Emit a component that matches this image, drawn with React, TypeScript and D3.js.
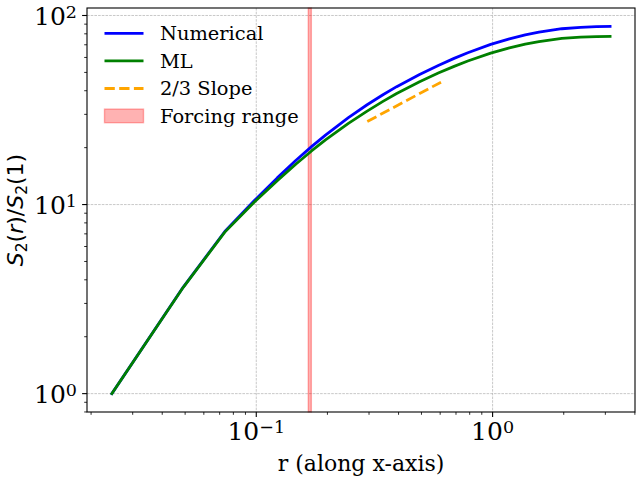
import React, { useEffect, useRef } from "react";
import * as d3 from "d3";

// separation r and normalized second-order structure function S2(r)/S2(1)
const rValues = [0.0245, 0.0491, 0.0736, 0.0982, 0.1227, 0.1473, 0.1718, 0.1963, 0.2454, 0.2945, 0.3436, 0.3927, 0.4909, 0.589, 0.6872, 0.7854, 0.9817, 1.1781, 1.3744, 1.5708, 1.9635, 2.3562, 2.7489, 3.1416];
const numerical = [1, 3.66, 7.2, 10.5, 13.84, 17.14, 20.31, 23.31, 28.83, 33.72, 38.1, 42.03, 48.75, 54.45, 59.33, 63.56, 70.3, 75.2, 78.9, 81.6, 85.1, 86.6, 87.3, 87.6];
const mlValues = [1, 3.65, 7.15, 10.31, 13.38, 16.4, 19.27, 21.98, 26.9, 31.22, 35.13, 38.65, 44.6, 49.6, 53.8, 57.46, 63.2, 67.4, 70.5, 72.8, 75.7, 76.9, 77.4, 77.6];

// reference 2/3 slope segment
const slopeR = [0.295, 0.605];
const slopeS = [27.5, 44.4];

const forcingRange = [0.166, 0.171];

const xTicks = [0.1, 1];
const xTickExp = ["\u22121", "0"];
const yTicks = [1, 10, 100];
const yTickExp = ["0", "1", "2"];

const legendLabels = ["Numerical", "ML", "2/3 Slope", "Forcing range"];

const SERIF = "DejaVu Serif";
const SANS = "DejaVu Sans";

export default function App() {
    const svgRef = useRef<SVGSVGElement>(null);

    useEffect(() => {
        if (!svgRef.current) return;
        const svg = d3.select(svgRef.current);
        svg.selectAll("*").remove();

        const width = 640;
        const height = 480;
        const margin = { top: 8, right: 5, bottom: 68, left: 87 };
        const x0 = margin.left, x1 = width - margin.right;
        const y0 = margin.top, y1 = height - margin.bottom;

        // matplotlib style 5% margins in log space
        const padLog = (vals: number[]) => {
            const lo = Math.log10(d3.min(vals)!);
            const hi = Math.log10(d3.max(vals)!);
            const m = (hi - lo) * 0.05;
            return [Math.pow(10, lo - m), Math.pow(10, hi + m)];
        };

        const x = d3.scaleLog().domain(padLog(rValues)).range([x0, x1]);
        const y = d3.scaleLog().domain(padLog([...numerical, ...mlValues])).range([y1, y0]);

        svg.append("rect").attr("width", width).attr("height", height).attr("fill", "white");

        // --- Grid ---
        const grid = svg.append("g").attr("stroke", "#b0b0b0").attr("stroke-width", 0.7).attr("stroke-dasharray", "2.6,1.1");
        xTicks.forEach((t) => {
            grid.append("line").attr("x1", x(t)).attr("x2", x(t)).attr("y1", y0).attr("y2", y1);
        });
        yTicks.forEach((t) => {
            grid.append("line").attr("x1", x0).attr("x2", x1).attr("y1", y(t)).attr("y2", y(t));
        });

        // --- Forcing range ---
        svg.append("rect")
            .attr("x", x(forcingRange[0]))
            .attr("width", x(forcingRange[1]) - x(forcingRange[0]))
            .attr("y", y0)
            .attr("height", y1 - y0)
            .attr("fill", "red")
            .attr("fill-opacity", 0.3)
            .attr("stroke", "red")
            .attr("stroke-opacity", 0.3)
            .attr("stroke-width", 1.4);

        // --- Lines ---
        const line = d3.line<[number, number]>().x((d) => x(d[0])).y((d) => y(d[1]));
        const series = [
            { vals: numerical, color: "blue" },
            { vals: mlValues, color: "green" },
        ];
        series.forEach((s) => {
            svg.append("path")
                .attr("d", line(rValues.map((r, i) => [r, s.vals[i]] as [number, number])))
                .attr("fill", "none")
                .attr("stroke", s.color)
                .attr("stroke-width", 2.78)
                .attr("stroke-linejoin", "round")
                .attr("stroke-linecap", "square");
        });

        svg.append("path")
            .attr("d", line(slopeR.map((r, i) => [r, slopeS[i]] as [number, number])))
            .attr("fill", "none")
            .attr("stroke", "orange")
            .attr("stroke-width", 2.78)
            .attr("stroke-dasharray", "10.3,4.4");

        // --- Spines ---
        svg.append("rect")
            .attr("x", x0).attr("y", y0)
            .attr("width", x1 - x0).attr("height", y1 - y0)
            .attr("fill", "none").attr("stroke", "black").attr("stroke-width", 1.1);

        // --- Ticks ---
        const ticks = svg.append("g").attr("stroke", "black");
        const minor = (lo: number, hi: number) => {
            const out: number[] = [];
            for (let e = Math.floor(Math.log10(lo)); e <= Math.ceil(Math.log10(hi)); e++) {
                for (let k = 2; k <= 9; k++) {
                    const v = k * Math.pow(10, e);
                    if (v >= lo && v <= hi) out.push(v);
                }
            }
            return out;
        };
        const [xl, xh] = x.domain();
        const [yl, yh] = y.domain();
        minor(xl, xh).forEach((t) => {
            ticks.append("line").attr("x1", x(t)).attr("x2", x(t)).attr("y1", y1).attr("y2", y1 + 2.8).attr("stroke-width", 0.83);
        });
        minor(yl, yh).forEach((t) => {
            ticks.append("line").attr("y1", y(t)).attr("y2", y(t)).attr("x1", x0).attr("x2", x0 - 2.8).attr("stroke-width", 0.83);
        });
        xTicks.forEach((t) => {
            ticks.append("line").attr("x1", x(t)).attr("x2", x(t)).attr("y1", y1).attr("y2", y1 + 4.9).attr("stroke-width", 1.1);
        });
        yTicks.forEach((t) => {
            ticks.append("line").attr("y1", y(t)).attr("y2", y(t)).attr("x1", x0).attr("x2", x0 - 4.9).attr("stroke-width", 1.1);
        });

        // --- Tick labels ---
        const tickFont = 25;
        xTicks.forEach((t, i) => {
            const txt = svg.append("text")
                .attr("x", x(t))
                .attr("y", y1 + 28)
                .attr("text-anchor", "middle")
                .attr("font-family", SERIF)
                .attr("font-size", tickFont)
                .attr("fill", "black");
            txt.append("tspan").text("10");
            txt.append("tspan").attr("font-size", tickFont * 0.7).attr("dy", -7).text(xTickExp[i]);
        });
        yTicks.forEach((t, i) => {
            const txt = svg.append("text")
                .attr("x", x0 - 10)
                .attr("y", y(t) + 9.2)
                .attr("text-anchor", "end")
                .attr("font-family", SERIF)
                .attr("font-size", tickFont)
                .attr("fill", "black");
            txt.append("tspan").text("10");
            txt.append("tspan").attr("font-size", tickFont * 0.7).attr("dy", -7).text(yTickExp[i]);
        });

        // --- Axis labels ---
        svg.append("text")
            .attr("x", (x0 + x1) / 2)
            .attr("y", 471)
            .attr("text-anchor", "middle")
            .attr("font-family", SERIF)
            .attr("font-size", 22)
            .attr("fill", "black")
            .text("r (along x-axis)");

        const yl2 = svg.append("text")
            .attr("transform", `translate(23,${(y0 + y1) / 2}) rotate(-90)`)
            .attr("text-anchor", "middle")
            .attr("font-family", SANS)
            .attr("font-size", 22)
            .attr("fill", "black");
        const sub = 0.7 * 22;
        yl2.append("tspan").attr("font-style", "italic").text("S");
        yl2.append("tspan").attr("font-size", sub).attr("dy", 4).text("2");
        yl2.append("tspan").attr("dy", -4).text("(");
        yl2.append("tspan").attr("font-style", "italic").text("r");
        yl2.append("tspan").text(")/");
        yl2.append("tspan").attr("font-style", "italic").text("S");
        yl2.append("tspan").attr("font-size", sub).attr("dy", 4).text("2");
        yl2.append("tspan").attr("dy", -4).text("(1)");

        // --- Legend (no frame) ---
        const legFont = 19.4;
        const legX = 104.5;
        const legY = 33.3;
        const rowH = 27.6;
        const legend = svg.append("g");
        legendLabels.forEach((label, i) => {
            const cy = legY + i * rowH;
            if (i < 2) {
                legend.append("line")
                    .attr("x1", legX).attr("x2", legX + 39).attr("y1", cy).attr("y2", cy)
                    .attr("stroke", series[i].color).attr("stroke-width", 2.78);
            } else if (i === 2) {
                legend.append("line")
                    .attr("x1", legX).attr("x2", legX + 39).attr("y1", cy).attr("y2", cy)
                    .attr("stroke", "orange").attr("stroke-width", 2.78).attr("stroke-dasharray", "10.3,4.4");
            } else {
                legend.append("rect")
                    .attr("x", legX).attr("y", cy - 7).attr("width", 39).attr("height", 13.6)
                    .attr("fill", "red").attr("fill-opacity", 0.3)
                    .attr("stroke", "red").attr("stroke-opacity", 0.3).attr("stroke-width", 1.4);
            }
            legend.append("text")
                .attr("x", 160)
                .attr("y", cy + 6.8)
                .attr("font-family", SERIF)
                .attr("font-size", legFont)
                .attr("fill", "black")
                .text(label);
        });
    }, []);

    return (
        <svg
            ref={svgRef}
            width={640}
            height={480}
            style={{ position: "absolute", left: 0, top: 0, display: "block" }}
        />
    );
}
